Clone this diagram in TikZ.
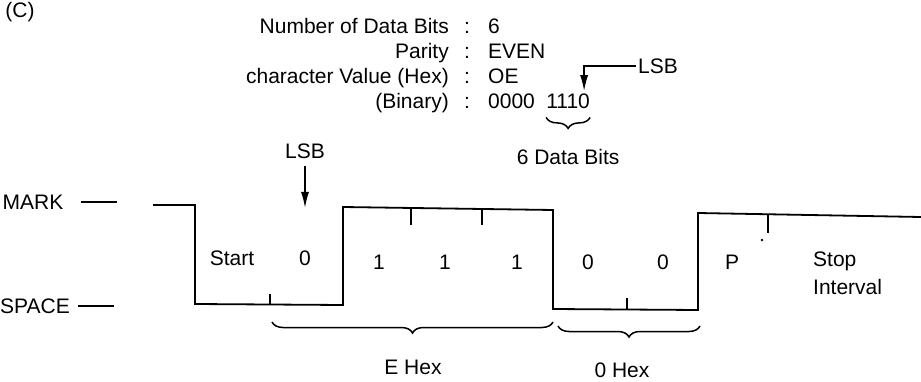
\documentclass[tikz,border=0pt]{standalone}
\usepackage{fontspec}
\setmainfont{Liberation Sans}
\usetikzlibrary{arrows.meta, positioning, decorations.pathreplacing}
\tikzset{
    lbl/.style={inner sep=0pt, font=\fontsize{21}{28}\selectfont},
    wave/.style={line width=1.8pt, line join=miter},
    tick/.style={line width=1.5pt},
    lsbarrow/.style={line width=1.5pt, -{Latex[length=16pt, width=8pt]}},
    bitbrace/.style={decorate, decoration={brace, mirror, amplitude=11pt}, line width=1.5pt}
}

\begin{document}
\begin{tikzpicture}[x=1pt, y=-1pt]
    \useasboundingbox (0,0) rectangle (921,382);

    % Heading
    \node[lbl] (fig) at (20,12) {(C)};

    % Character settings
    \node[lbl, anchor=base east] (nbits) at (449,34) {Number of Data Bits};
    \node[lbl, anchor=base east] (parity) at (449,59) {Parity};
    \node[lbl, anchor=base east] (hexval) at (449,84) {character Value (Hex)};
    \node[lbl, anchor=base east] (binval) at (449,109) {(Binary)};
    \foreach \r in {nbits, parity, hexval, binval} {
        \node[lbl, anchor=base] (\r-col) at ([xshift=18pt]\r.base east) {:};
    }
    \node[lbl, anchor=base west] (nbits-val) at ([xshift=21pt]nbits-col.base) {6};
    \node[lbl, anchor=base west] (parity-val) at ([xshift=21pt]parity-col.base) {EVEN};
    \node[lbl, anchor=base west] (hexval-val) at ([xshift=21pt]hexval-col.base) {OE};
    \node[lbl, anchor=base west] (bin0) at ([xshift=21pt]binval-col.base) {0000};
    \node[lbl, anchor=base west] (bin1) at ([xshift=11pt]bin0.base east) {1110};

    % LSB of the binary value
    \node[lbl, anchor=west] (lsbtop) at (638,66) {LSB};
    \draw[lsbarrow] ([xshift=-2pt]lsbtop.west) -| ([xshift=-6pt, yshift=3pt]bin1.north east);
    \draw[bitbrace] ([yshift=-8pt]bin1.south west) -- ([yshift=-8pt]bin1.south east);
    \node[lbl] (databits) at ([yshift=-48pt]bin1.south) {6 Data Bits};

    % Line levels
    \node[lbl] (mark) at (33,202) {MARK};
    \node[lbl] (space) at (35,306) {SPACE};
    \draw[tick] ([xshift=17pt]mark.east) -- ++(36,0);
    \draw[tick] ([xshift=8pt]space.east) -- ++(36,0);

    % Waveform
    \coordinate (s0) at (195,304);
    \coordinate (s1) at (343,305);
    \coordinate (s2) at (553,309);
    \coordinate (s3) at (698,310);
    \draw[wave] (153,205) -- (195,205) -- (s0) -- (s1) -- (343,207) -- (553,210)
        -- (s2) -- (s3) -- (698,213) -- (921,217);

    % Bit ticks
    \draw[tick] (270,305) -- (270,294);
    \draw[tick] (627,309) -- (627,298);
    \foreach \x in {411, 482} {
        \draw[tick] (\x,208) -- (\x,225);
    }
    \draw[tick] (768,215) -- (768,233);
    \fill (762,240) circle (1.3);

    % Bit labels
    \node[lbl] (start) at (232,258) {Start};
    \node[lbl] (b0) at (305,258) {0};
    \foreach \x/\b/\n in {379/1/b1, 445/1/b2, 517/1/b3, 588/0/b4, 663/0/b5, 732/P/par} {
        \node[lbl] (\n) at (\x,262) {\b};
    }
    \node[lbl, anchor=west, align=left] (stop) at (813,273) {Stop\\Interval};

    % LSB on the line
    \node[lbl] (lsbbot) at (305,151) {LSB};
    \draw[lsbarrow] ([yshift=-7pt]lsbbot.south) -- (305,208);

    % Hex digits
    \coordinate (ehl) at (272,322);
    \coordinate (ehr) at (553,322);
    \coordinate (ohl) at (558,326);
    \coordinate (ohr) at (700,326);
    \draw[bitbrace] (ehl) -- (ehr);
    \draw[bitbrace] (ohl) -- (ohr);
    \node[lbl] (ehex) at (413,367) {E Hex};
    \node[lbl] (ohex) at (622,370) {0 Hex};
\end{tikzpicture}
\end{document}
